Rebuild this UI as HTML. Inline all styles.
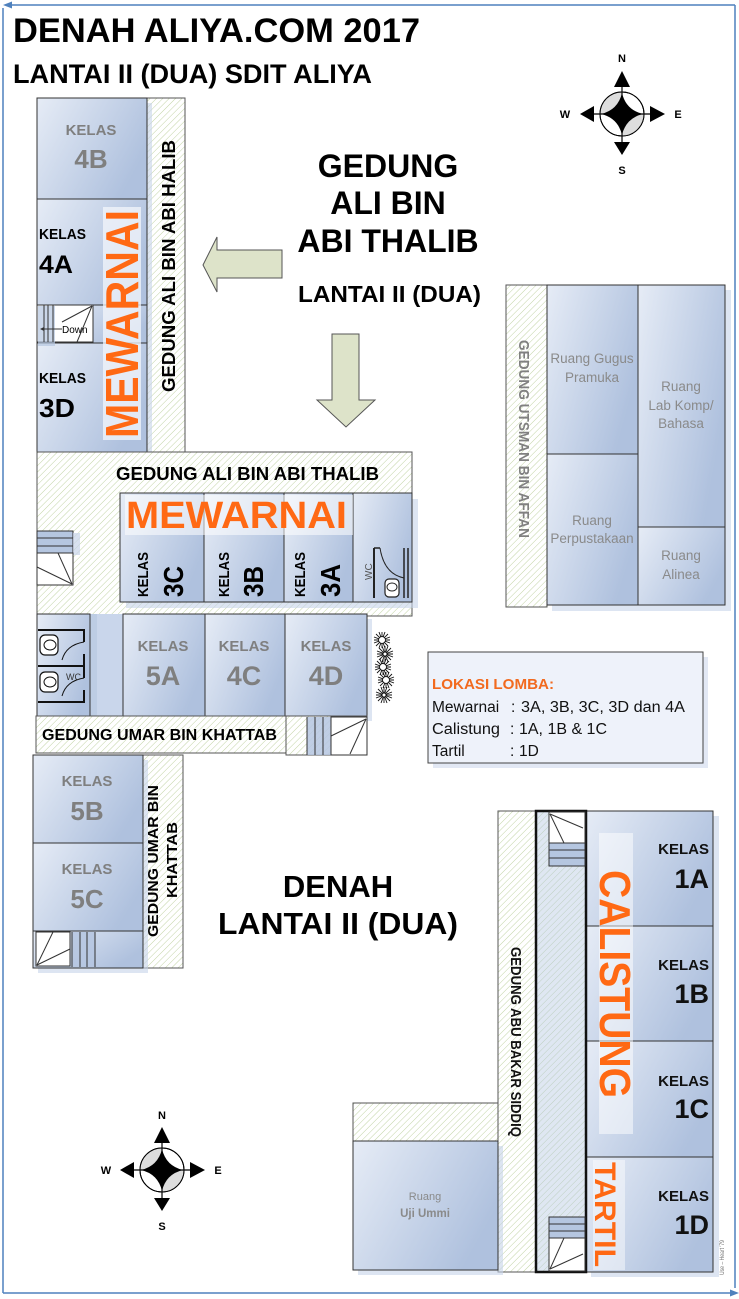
<!DOCTYPE html>
<html><head><meta charset="utf-8">
<style>
html,body{margin:0;padding:0;background:#fff;}
svg{display:block;}
text{font-family:"Liberation Sans",Arial,sans-serif;}
</style></head><body>
<svg width="739" height="1299" viewBox="0 0 739 1299" xmlns="http://www.w3.org/2000/svg">
<defs>
<pattern id="h" width="4.5" height="4.5" patternUnits="userSpaceOnUse" patternTransform="rotate(45)">
<rect width="4.5" height="4.5" fill="#fff"/>
<line x1="0" y1="0" x2="0" y2="4.5" stroke="#b3c98f" stroke-width="0.8"/>
</pattern>
<linearGradient id="g" x1="0" y1="0" x2="1" y2="0.5">
<stop offset="0" stop-color="#e6ecf6"/>
<stop offset="1" stop-color="#afc1de"/>
</linearGradient>
</defs>
<rect width="739" height="1299" fill="#fff"/>

<!-- frame -->
<g stroke="#4f81bd" stroke-width="1.5" fill="none">
<line x1="8" y1="5" x2="735" y2="5"/>
<line x1="735" y1="5" x2="735" y2="1288"/>
<line x1="3" y1="8" x2="3" y2="1293"/>
<line x1="3" y1="1293" x2="731" y2="1293"/>
</g>
<polygon points="3,5 12,1.5 12,8.5" fill="#4f81bd"/>
<polygon points="739,1293 730,1289.5 730,1296.5" fill="#4f81bd"/>

<!-- titles -->
<text x="13" y="42" font-size="34" font-weight="bold" textLength="407" lengthAdjust="spacingAndGlyphs">DENAH ALIYA.COM 2017</text>
<text x="13" y="83" font-size="27" font-weight="bold" textLength="359" lengthAdjust="spacingAndGlyphs">LANTAI II (DUA) SDIT ALIYA</text>

<text x="388" y="177" font-size="32" font-weight="bold" text-anchor="middle">GEDUNG</text>
<text x="388" y="214" font-size="32" font-weight="bold" text-anchor="middle">ALI BIN</text>
<text x="388" y="252" font-size="32" font-weight="bold" text-anchor="middle">ABI THALIB</text>
<text x="298" y="302" font-size="23" font-weight="bold" textLength="183" lengthAdjust="spacingAndGlyphs">LANTAI II (DUA)</text>

<!-- arrows -->
<polygon points="203,265 217,237 217,250 282,250 282,278 217,278 217,292" fill="#dde3c9" stroke="#555" stroke-width="1"/>
<polygon points="332,334 359,334 359,400 375,400 346,427 317,400 332,400" fill="#dde3c9" stroke="#555" stroke-width="1"/>

<!-- top-left building -->
<rect x="147" y="98" width="38" height="354" fill="url(#h)" stroke="#555"/>
<rect x="42" y="103" width="110" height="354" fill="#c7d4ea" opacity=".6"/>
<g fill="url(#g)" stroke="#333">
<rect x="37" y="98" width="110" height="101"/>
<rect x="37" y="199" width="110" height="106"/>
<rect x="37" y="305" width="110" height="38"/>
<rect x="37" y="343" width="110" height="109"/>
</g>
<rect x="37" y="305" width="56" height="37" fill="#fff" stroke="#333"/>
<rect x="38" y="306" width="17" height="40" fill="#b5c6e0" opacity=".7"/>
<g stroke="#333" stroke-width="1">
<line x1="44" y1="305" x2="44" y2="342"/>
<line x1="48" y1="305" x2="48" y2="342"/>
<line x1="53" y1="305" x2="53" y2="342"/>
<line x1="92" y1="306" x2="62" y2="322"/>
<line x1="92" y1="306" x2="77" y2="342"/>
<line x1="42" y1="329" x2="62" y2="329"/>
</g>
<polygon points="40,329 44,327 44,331" fill="#333"/>
<text x="62" y="333" font-size="10">Down</text>

<text x="91" y="135" font-size="15" font-weight="bold" fill="#7f7f7f" text-anchor="middle">KELAS</text>
<text x="91" y="168" font-size="26" font-weight="bold" fill="#7f7f7f" text-anchor="middle">4B</text>
<text x="39" y="239" font-size="15" font-weight="bold" textLength="47" lengthAdjust="spacingAndGlyphs">KELAS</text>
<text x="39" y="273" font-size="25" font-weight="bold" textLength="34" lengthAdjust="spacingAndGlyphs">4A</text>
<text x="39" y="383" font-size="15" font-weight="bold" textLength="47" lengthAdjust="spacingAndGlyphs">KELAS</text>
<text x="39" y="417" font-size="26" font-weight="bold" textLength="36" lengthAdjust="spacingAndGlyphs">3D</text>

<rect x="103" y="207" width="38" height="233" fill="#f3f6fb" opacity=".75"/>
<text transform="translate(138,438) rotate(-90)" font-size="46" font-weight="bold" fill="#ff6914" textLength="228" lengthAdjust="spacingAndGlyphs">MEWARNAI</text>
<text transform="translate(175,392) rotate(-90)" font-size="18" font-weight="bold" textLength="252" lengthAdjust="spacingAndGlyphs">GEDUNG ALI BIN ABI HALIB</text>

<!-- middle building -->
<rect x="37" y="452" width="375" height="164" fill="url(#h)" stroke="#555"/>
<text x="116" y="480" font-size="18" font-weight="bold" textLength="263" lengthAdjust="spacingAndGlyphs">GEDUNG ALI BIN ABI THALIB</text>
<rect x="126" y="499" width="292" height="109" fill="#c7d4ea" opacity=".6"/>
<g fill="url(#g)" stroke="#333">
<rect x="120" y="493" width="84" height="109"/>
<rect x="204" y="493" width="80" height="109"/>
<rect x="284" y="493" width="69" height="109"/>
<rect x="353" y="493" width="59" height="109"/>
</g>
<rect x="125" y="495" width="228" height="40" fill="#fff" opacity=".55"/>
<text x="126" y="528" font-size="38" font-weight="bold" fill="#ff6914" textLength="221" lengthAdjust="spacingAndGlyphs">MEWARNAI</text>

<text transform="translate(148,597) rotate(-90)" font-size="15" font-weight="bold" textLength="45" lengthAdjust="spacingAndGlyphs">KELAS</text>
<text transform="translate(183,597) rotate(-90)" font-size="28" font-weight="bold" textLength="31" lengthAdjust="spacingAndGlyphs">3C</text>
<text transform="translate(229,597) rotate(-90)" font-size="15" font-weight="bold" textLength="45" lengthAdjust="spacingAndGlyphs">KELAS</text>
<text transform="translate(263,597) rotate(-90)" font-size="28" font-weight="bold" textLength="31" lengthAdjust="spacingAndGlyphs">3B</text>
<text transform="translate(305,597) rotate(-90)" font-size="15" font-weight="bold" textLength="45" lengthAdjust="spacingAndGlyphs">KELAS</text>
<text transform="translate(340,597) rotate(-90)" font-size="28" font-weight="bold" textLength="33" lengthAdjust="spacingAndGlyphs">3A</text>

<!-- right WC -->
<text transform="translate(372,580) rotate(-90)" font-size="10" fill="#555">WC</text>
<g stroke="#222" fill="none">
<line x1="374" y1="548" x2="374" y2="598" stroke-width="2"/>
<line x1="404" y1="548" x2="404" y2="598" stroke-width="1.5"/>
<line x1="408" y1="548" x2="408" y2="598" stroke-width="1.5"/>
<line x1="374" y1="548" x2="380" y2="548" stroke-width="1.5"/>
<path d="M380,548 Q384,574 404,578" stroke-width="1"/>
<rect x="385" y="579" width="14" height="18" rx="4" fill="#fff" stroke-width="1.2"/>
<ellipse cx="392" cy="587" rx="5" ry="4" fill="#fff"/>
</g>

<!-- left stairs in middle -->
<rect x="37" y="531" width="36" height="22" fill="#b5c6e0" stroke="#333"/>
<rect x="73" y="533" width="7" height="22" fill="#c7d4ea" opacity=".7"/>
<g stroke="#333">
<line x1="37" y1="538" x2="73" y2="538"/>
<line x1="37" y1="546" x2="73" y2="546"/>
</g>
<rect x="37" y="553" width="36" height="32" fill="#fff" stroke="#333"/>
<g stroke="#333"><line x1="72" y1="584" x2="37" y2="567"/><line x1="72" y1="584" x2="58" y2="553"/></g>

<!-- row 2 -->
<rect x="90" y="614" width="33" height="102" fill="#c9d6eb"/>
<rect x="90" y="614" width="7" height="102" fill="#b5c6e0" opacity=".6"/>
<rect x="128" y="619" width="244" height="102" fill="#c7d4ea" opacity=".6"/>
<g fill="url(#g)" stroke="#333">
<rect x="37" y="614" width="53" height="102"/>
<rect x="123" y="614" width="82" height="102"/>
<rect x="205" y="614" width="80" height="102"/>
<rect x="285" y="614" width="82" height="102"/>
</g>
<!-- left WC toilets -->
<g stroke="#111" fill="none">
<path d="M38,630 H84 V642" stroke-width="2"/>
<path d="M38,666 H84 V654" stroke-width="2"/>
<path d="M84,666 V678" stroke-width="2"/>
<path d="M38,702 H84 V690" stroke-width="2"/>
<path d="M84,642 Q66,645 62,660" stroke-width="1"/>
<path d="M84,678 Q66,681 62,696" stroke-width="1"/>
<rect x="40" y="635" width="18" height="20" rx="5" fill="#fff" stroke-width="1.2"/>
<ellipse cx="50" cy="645" rx="6" ry="5" fill="#fff"/>
<rect x="40" y="672" width="18" height="20" rx="5" fill="#fff" stroke-width="1.2"/>
<ellipse cx="50" cy="682" rx="6" ry="5" fill="#fff"/>
</g>
<text x="66" y="680" font-size="9" fill="#333">WC</text>

<g font-weight="bold" fill="#7f7f7f" text-anchor="middle">
<text x="163" y="651" font-size="15">KELAS</text>
<text x="163" y="685" font-size="27">5A</text>
<text x="244" y="651" font-size="15">KELAS</text>
<text x="244" y="685" font-size="27">4C</text>
<text x="326" y="651" font-size="15">KELAS</text>
<text x="326" y="685" font-size="27">4D</text>
</g>

<!-- plants -->
<g stroke="#111" stroke-width="0.9" fill="#fff">
<g transform="translate(382,640)"><path d="M-8,0H8M0,-8V8M-6,-6L6,6M-6,6L6,-6M-3,-8L3,8M3,-8L-3,8M-8,-3L8,3M-8,3L8,-3"/><circle r="3.5"/></g>
<g transform="translate(385,654)"><path d="M-8,0H8M0,-8V8M-6,-6L6,6M-6,6L6,-6M-3,-8L3,8M3,-8L-3,8M-8,-3L8,3M-8,3L8,-3"/><circle r="2"/></g>
<g transform="translate(383,667)"><path d="M-8,0H8M0,-8V8M-6,-6L6,6M-6,6L6,-6M-3,-8L3,8M3,-8L-3,8M-8,-3L8,3M-8,3L8,-3"/><circle r="3.5"/></g>
<g transform="translate(386,680)"><path d="M-8,0H8M0,-8V8M-6,-6L6,6M-6,6L6,-6M-3,-8L3,8M3,-8L-3,8M-8,-3L8,3M-8,3L8,-3"/><circle r="3.5"/></g>
<g transform="translate(384,695)"><path d="M-8,0H8M0,-8V8M-6,-6L6,6M-6,6L6,-6M-3,-8L3,8M3,-8L-3,8M-8,-3L8,3M-8,3L8,-3"/><circle r="2"/></g>
</g>

<!-- Umar strip -->
<rect x="36" y="716" width="250" height="37" fill="url(#h)" stroke="#555"/>
<text x="42" y="740" font-size="16" font-weight="bold" textLength="235" lengthAdjust="spacingAndGlyphs">GEDUNG UMAR BIN KHATTAB</text>
<rect x="286" y="716" width="81" height="39" fill="url(#h)" stroke="#555"/>
<rect x="307" y="717" width="24" height="38" fill="#b5c6e0" opacity=".85"/>
<g stroke="#333">
<line x1="307" y1="717" x2="307" y2="755"/>
<line x1="315" y1="717" x2="315" y2="755"/>
<line x1="323" y1="717" x2="323" y2="755"/>
</g>
<rect x="331" y="717" width="36" height="38" fill="#fff" stroke="#333"/>
<g stroke="#333"><line x1="366" y1="719" x2="331" y2="736"/><line x1="366" y1="719" x2="350" y2="754"/></g>

<!-- lower-left building -->
<rect x="143" y="755" width="40" height="213" fill="url(#h)" stroke="#555"/>
<rect x="38" y="760" width="110" height="213" fill="#c7d4ea" opacity=".6"/>
<g fill="url(#g)" stroke="#333">
<rect x="33" y="755" width="110" height="88"/>
<rect x="33" y="843" width="110" height="88"/>
<rect x="33" y="931" width="110" height="37"/>
</g>
<rect x="36" y="932" width="34" height="34" fill="#fff" stroke="#333"/>
<g stroke="#333"><line x1="37" y1="965" x2="53" y2="932"/><line x1="37" y1="965" x2="70" y2="949"/></g>
<rect x="72" y="932" width="23" height="35" fill="#b5c6e0" opacity=".85"/>
<g stroke="#333">
<line x1="72" y1="932" x2="72" y2="967"/>
<line x1="80" y1="932" x2="80" y2="967"/>
<line x1="87" y1="932" x2="87" y2="967"/>
<line x1="95" y1="932" x2="95" y2="967"/>
</g>
<g font-weight="bold" fill="#7f7f7f" text-anchor="middle">
<text x="87" y="786" font-size="15">KELAS</text>
<text x="87" y="820" font-size="26">5B</text>
<text x="87" y="874" font-size="15">KELAS</text>
<text x="87" y="908" font-size="26">5C</text>
</g>
<text transform="translate(158,937) rotate(-90)" font-size="15" font-weight="bold" textLength="152" lengthAdjust="spacingAndGlyphs">GEDUNG UMAR BIN</text>
<text transform="translate(177,898) rotate(-90)" font-size="15" font-weight="bold" textLength="76" lengthAdjust="spacingAndGlyphs">KHATTAB</text>

<text x="338" y="897" font-size="31" font-weight="bold" text-anchor="middle">DENAH</text>
<text x="218" y="934" font-size="31" font-weight="bold" textLength="240" lengthAdjust="spacingAndGlyphs">LANTAI II (DUA)</text>

<!-- Utsman building -->
<rect x="506" y="285" width="41" height="322" fill="url(#h)" stroke="#555"/>
<rect x="552" y="290" width="179" height="321" fill="#c7d4ea" opacity=".6"/>
<g fill="url(#g)" stroke="#333">
<rect x="547" y="285" width="91" height="169"/>
<rect x="547" y="454" width="91" height="151"/>
<rect x="638" y="285" width="87" height="242"/>
<rect x="638" y="527" width="87" height="78"/>
</g>
<g font-size="13.5" fill="#8a8a8a" text-anchor="middle">
<text x="592" y="363">Ruang Gugus</text>
<text x="592" y="382">Pramuka</text>
<text x="681" y="391">Ruang</text>
<text x="681" y="410">Lab Komp/</text>
<text x="681" y="428">Bahasa</text>
<text x="592" y="525">Ruang</text>
<text x="592" y="543">Perpustakaan</text>
<text x="681" y="560">Ruang</text>
<text x="681" y="579">Alinea</text>
</g>
<text transform="translate(519,340) rotate(90)" font-size="14.5" font-weight="bold" fill="#808080" textLength="198" lengthAdjust="spacingAndGlyphs">GEDUNG UTSMAN BIN AFFAN</text>

<!-- Lokasi box -->
<rect x="433" y="657" width="275" height="111" fill="#d5def0" opacity=".7"/>
<rect x="428" y="652" width="275" height="111" fill="#eef2fa" stroke="#444"/>
<text x="432" y="689" font-size="15" font-weight="bold" fill="#f26a1f" textLength="122" lengthAdjust="spacingAndGlyphs">LOKASI LOMBA:</text>
<g font-size="15.5" fill="#111">
<text x="432" y="712">Mewarnai</text><text x="511" y="712">:</text><text x="521" y="712" textLength="164" lengthAdjust="spacingAndGlyphs">3A, 3B, 3C, 3D dan 4A</text>
<text x="432" y="734" textLength="68" lengthAdjust="spacingAndGlyphs">Calistung</text><text x="510" y="734">:</text><text x="519" y="734" textLength="88" lengthAdjust="spacingAndGlyphs">1A, 1B &amp; 1C</text>
<text x="432" y="756">Tartil</text><text x="510" y="756">:</text><text x="519" y="756">1D</text>
</g>

<!-- Abu Bakar building -->
<rect x="498" y="811" width="38" height="461" fill="url(#h)" stroke="#555"/>
<rect x="536" y="811" width="50" height="461" fill="url(#h)"/>
<rect x="536" y="811" width="50" height="461" fill="#b9c9e3" opacity=".45"/>
<rect x="591" y="816" width="128" height="461" fill="#c7d4ea" opacity=".6"/>
<g fill="url(#g)" stroke="#333">
<rect x="586" y="811" width="127" height="115"/>
<rect x="586" y="926" width="127" height="115"/>
<rect x="586" y="1041" width="127" height="116"/>
<rect x="586" y="1157" width="127" height="115"/>
</g>
<rect x="536" y="811" width="50" height="461" fill="none" stroke="#111" stroke-width="2.5"/>
<!-- stairs top -->
<rect x="549" y="812" width="36" height="31" fill="#fff" stroke="#333"/>
<g stroke="#333"><line x1="550" y1="814" x2="583" y2="828"/><line x1="550" y1="814" x2="564" y2="843"/></g>
<rect x="549" y="843" width="36" height="23" fill="#b5c6e0" stroke="#333"/>
<g stroke="#333"><line x1="549" y1="850" x2="585" y2="850"/><line x1="549" y1="858" x2="585" y2="858"/></g>
<!-- stairs bottom -->
<rect x="549" y="1217" width="36" height="21" fill="#b5c6e0" stroke="#333"/>
<g stroke="#333"><line x1="549" y1="1224" x2="585" y2="1224"/><line x1="549" y1="1231" x2="585" y2="1231"/></g>
<rect x="549" y="1238" width="36" height="33" fill="#fff" stroke="#333"/>
<g stroke="#333"><line x1="550" y1="1269" x2="564" y2="1238"/><line x1="550" y1="1269" x2="583" y2="1254"/></g>

<g font-weight="bold" fill="#111" text-anchor="end">
<text x="709" y="854" font-size="15">KELAS</text>
<text x="709" y="888" font-size="27">1A</text>
<text x="709" y="970" font-size="15">KELAS</text>
<text x="709" y="1003" font-size="27">1B</text>
<text x="709" y="1086" font-size="15">KELAS</text>
<text x="709" y="1118" font-size="27">1C</text>
<text x="709" y="1201" font-size="15">KELAS</text>
<text x="709" y="1234" font-size="27">1D</text>
</g>
<rect x="599" y="833" width="34" height="301" fill="#fff" opacity=".5"/>
<text transform="translate(600,870) rotate(90)" font-size="44" font-weight="bold" fill="#ff6914" textLength="228" lengthAdjust="spacingAndGlyphs">CALISTUNG</text>
<rect x="593" y="1160" width="32" height="110" fill="#fff" opacity=".45"/>
<text transform="translate(595,1162) rotate(90)" font-size="30" font-weight="bold" fill="#ff6914" textLength="105" lengthAdjust="spacingAndGlyphs">TARTIL</text>
<text transform="translate(511,947) rotate(90)" font-size="14.5" font-weight="bold" fill="#111" textLength="190" lengthAdjust="spacingAndGlyphs">GEDUNG ABU BAKAR SIDDIQ</text>
<text transform="translate(724,1275) rotate(-90)" font-size="6" fill="#777" textLength="35" lengthAdjust="spacingAndGlyphs">Use – Heart '79</text>

<!-- Uji Ummi -->
<rect x="353" y="1103" width="145" height="38" fill="url(#h)" stroke="#555"/>
<rect x="358" y="1146" width="145" height="129" fill="#c7d4ea" opacity=".6"/>
<rect x="353" y="1141" width="145" height="129" fill="url(#g)" stroke="#333"/>
<text x="425" y="1200" font-size="11" fill="#8a8a8a" text-anchor="middle">Ruang</text>
<text x="425" y="1217" font-size="11.5" font-weight="bold" fill="#8a8a8a" text-anchor="middle">Uji Ummi</text>

<!-- compass top -->
<g transform="translate(622,114)">
<circle r="22" fill="#fff" stroke="#000" stroke-width="1"/>
<path d="M0,0 L0,-22 A22,22 0 0 0 -22,0 Z" fill="#ddd"/>
<path d="M0,0 L0,22 A22,22 0 0 0 22,0 Z" fill="#ddd"/>
<circle r="22" fill="none" stroke="#000" stroke-width="1"/>
<line x1="0" y1="-28" x2="0" y2="29" stroke="#000" stroke-width="1.2"/>
<line x1="-29" y1="0" x2="29" y2="0" stroke="#000" stroke-width="1.2"/>
<path d="M0,-21 Q4,-4 21,0 Q4,4 0,21 Q-4,4 -21,0 Q-4,-4 0,-21 Z" fill="#000"/>
<polygon points="0,-43 -8,-27 8,-27" fill="#000"/>
<polygon points="0,41 -8,28 8,28" fill="#000"/>
<polygon points="-42,0 -28,-8 -28,8" fill="#000"/>
<polygon points="43,0 28,-8 28,8" fill="#000"/>
</g>
<g font-size="11" font-weight="bold" text-anchor="middle">
<text x="622" y="62">N</text>
<text x="622" y="174">S</text>
<text x="565" y="118">W</text>
<text x="678" y="118">E</text>
</g>

<!-- compass bottom -->
<g transform="translate(162,1170)">
<circle r="22" fill="#fff" stroke="#000" stroke-width="1"/>
<path d="M0,0 L0,-22 A22,22 0 0 0 -22,0 Z" fill="#ddd"/>
<path d="M0,0 L0,22 A22,22 0 0 0 22,0 Z" fill="#ddd"/>
<circle r="22" fill="none" stroke="#000" stroke-width="1"/>
<line x1="0" y1="-28" x2="0" y2="29" stroke="#000" stroke-width="1.2"/>
<line x1="-29" y1="0" x2="29" y2="0" stroke="#000" stroke-width="1.2"/>
<path d="M0,-21 Q4,-4 21,0 Q4,4 0,21 Q-4,4 -21,0 Q-4,-4 0,-21 Z" fill="#000"/>
<polygon points="0,-43 -8,-27 8,-27" fill="#000"/>
<polygon points="0,41 -8,28 8,28" fill="#000"/>
<polygon points="-42,0 -28,-8 -28,8" fill="#000"/>
<polygon points="43,0 28,-8 28,8" fill="#000"/>
</g>
<g font-size="11" font-weight="bold" text-anchor="middle">
<text x="162" y="1119">N</text>
<text x="162" y="1230">S</text>
<text x="106" y="1174">W</text>
<text x="218" y="1174">E</text>
</g>
</svg>
</body></html>
